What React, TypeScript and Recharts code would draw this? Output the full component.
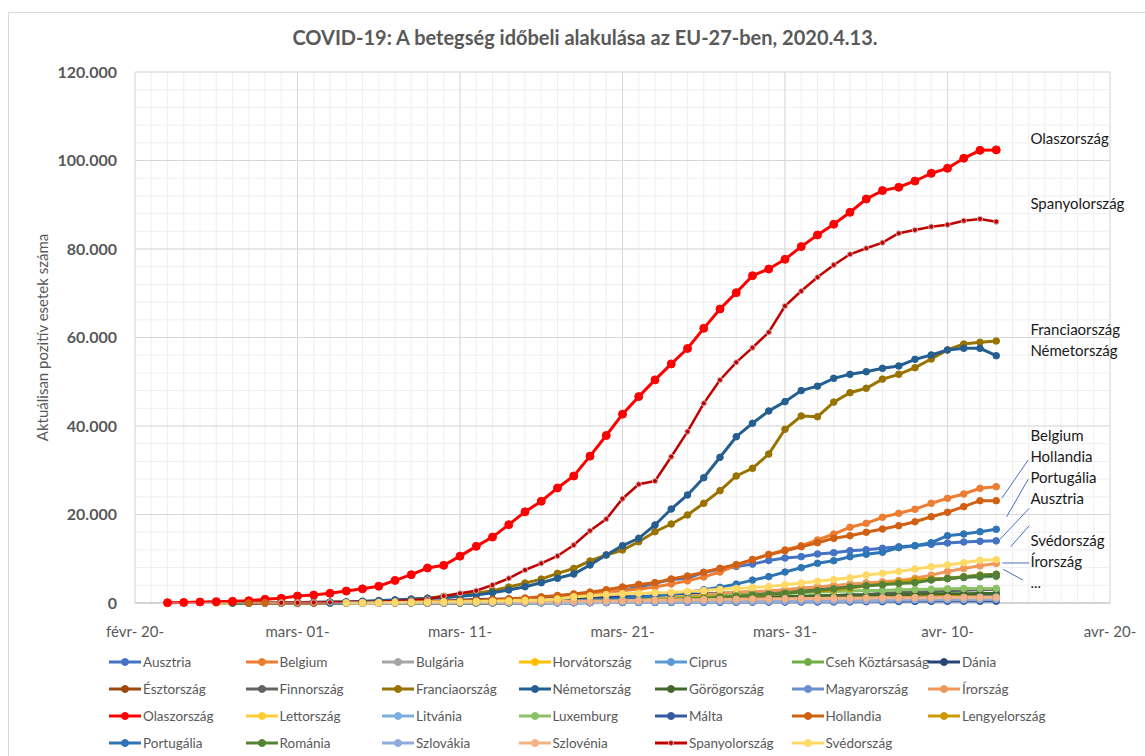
import { LineChart, Line, XAxis, YAxis, CartesianGrid, Legend, ReferenceDot, ReferenceLine } from 'recharts'

const FONT = 'Lato, "Open Sans", sans-serif'
const TEXT = '#595959'

const TITLE = 'COVID-19: A betegség időbeli alakulása az EU-27-ben, 2020.4.13.'
const Y_TITLE = 'Aktuálisan pozitív esetek száma'

// x = napok száma 2020. febr. 20. óta
const X_TICKS = [0, 10, 20, 30, 40, 50, 60]
const X_LABELS = ['févr- 20-', 'mars- 01-', 'mars- 11-', 'mars- 21-', 'mars- 31-', 'avr- 10-', 'avr- 20-']
const Y_TICKS = [0, 20000, 40000, 60000, 80000, 100000, 120000]
const LAST_DAY = 53

// napi értékek, az adott ország első napjától (START) kezdve
const ausztria = [2, 2, 3, 3, 9, 14, 18, 21, 29, 41, 55, 79, 104, 131, 182, 246, 302, 504, 655, 860, 1018, 1332, 1646, 2013, 2388, 2814, 3582, 4474, 5283, 5588, 6909, 7657, 8271, 8788, 9618, 10180, 10470, 11070, 11350, 11820, 12050, 12360, 12720, 12950, 13250, 13550, 13800, 13950, 14040]
const belgium = [2, 8, 13, 23, 50, 109, 169, 200, 239, 267, 314, 400, 559, 689, 886, 1100, 1500, 1800, 2200, 2500, 2800, 3100, 3600, 4300, 5000, 5900, 7000, 8500, 9800, 11000, 12000, 12950, 14240, 15590, 17110, 18010, 19370, 20270, 21180, 22530, 23660, 24630, 25920, 26280]
const bulgaria = [4, 4, 4, 4, 6, 7, 7, 23, 41, 51, 52, 67, 92, 94, 127, 163, 187, 201, 218, 242, 264, 293, 331, 346, 359, 399, 422, 457, 485, 503, 531, 549, 577, 593, 618, 635, 661, 685]
const horvatorszag = [1, 3, 3, 5, 7, 7, 9, 10, 11, 12, 12, 12, 14, 19, 32, 38, 49, 57, 65, 81, 105, 128, 206, 254, 315, 382, 442, 495, 586, 657, 713, 790, 867, 963, 1011, 1079, 1126, 1182, 1222, 1282, 1343, 1407, 1495, 1534, 1555, 1600, 1622, 1650, 1650]
const ciprus = [2, 3, 6, 6, 14, 26, 33, 46, 49, 67, 75, 95, 116, 124, 132, 162, 179, 214, 230, 262, 320, 356, 396, 426, 446, 465, 494, 526, 564, 595, 616, 633, 641, 650, 656, 662]
const cseh = [3, 3, 5, 8, 19, 26, 32, 38, 63, 94, 116, 141, 189, 298, 383, 450, 560, 765, 889, 1047, 1161, 1287, 1472, 1654, 1925, 2279, 2400, 2500, 2600, 3000, 3300, 3600, 3900, 4200, 4500, 4600, 4800, 5000, 5300, 5600, 5800, 5900, 6000]
const dania = [1, 1, 1, 3, 4, 4, 6, 10, 23, 35, 90, 262, 444, 617, 804, 836, 875, 933, 977, 1057, 1151, 1255, 1326, 1395, 1450, 1591, 1724, 1877, 2046, 2100, 2200, 2300, 2400, 2600, 2860, 3100, 3400, 3700, 4000, 4300, 4700, 5000, 5300, 5600, 5800, 6100, 6300]
const esztorszag = [1, 1, 1, 1, 2, 3, 3, 10, 10, 10, 10, 13, 16, 79, 115, 171, 205, 225, 258, 267, 283, 306, 326, 352, 369, 404, 538, 575, 645, 679, 715, 745, 779, 858, 961, 1039, 1097, 1108, 1149, 1185, 1207, 1258, 1304, 1309, 1332, 1373, 1400]
const finnorszag = [1, 2, 2, 3, 6, 6, 6, 6, 12, 15, 15, 23, 30, 40, 59, 109, 155, 225, 244, 277, 321, 336, 400, 450, 523, 626, 700, 792, 880, 958, 1041, 1167, 1240, 1352, 1418, 1446, 1518, 1615, 1882, 1927, 2176, 2308, 2487, 2605, 2769, 2905, 2974, 3064]
const franciaorszag = [100, 130, 190, 200, 280, 420, 600, 900, 1100, 1500, 1700, 2200, 2800, 3600, 4500, 5400, 6700, 7800, 9490, 10850, 11980, 13850, 16110, 17850, 19890, 22530, 25380, 28700, 30440, 33670, 39260, 42260, 42100, 45400, 47530, 48520, 50600, 51680, 53180, 55140, 57180, 58530, 58920, 59210]
const nemetorszag = [100, 150, 200, 250, 400, 550, 700, 850, 1000, 1200, 1500, 1810, 2330, 2940, 3680, 4590, 5580, 6550, 8590, 10850, 12950, 14620, 17630, 21240, 24410, 28320, 32930, 37580, 40610, 43390, 45500, 48000, 49000, 50780, 51680, 52270, 53040, 53560, 55070, 56050, 57180, 57560, 57560, 55880]
const gorogorszag = [1, 3, 4, 7, 7, 7, 9, 31, 45, 46, 73, 73, 89, 99, 99, 190, 228, 331, 331, 387, 418, 418, 495, 530, 624, 695, 743, 821, 892, 966, 1061, 1156, 1212, 1314, 1415, 1544, 1613, 1673, 1735, 1755, 1832, 1884, 1955, 2011, 2081, 2114, 2145, 2170]
const magyarorszag = [2, 4, 7, 9, 9, 13, 13, 19, 30, 32, 39, 50, 58, 73, 85, 103, 131, 167, 187, 226, 261, 300, 343, 408, 447, 492, 525, 585, 623, 678, 733, 744, 817, 895, 980, 1050, 1190, 1310, 1360, 1410]
const irorszag = [1, 2, 6, 18, 19, 21, 24, 34, 43, 70, 90, 129, 169, 223, 292, 557, 683, 785, 906, 1125, 1329, 1564, 1819, 2121, 2415, 2615, 2700, 3000, 3300, 3600, 3900, 4200, 4500, 4800, 5100, 5600, 6300, 7100, 7800, 8400, 8950]
const olaszorszag = [60, 130, 220, 310, 385, 520, 840, 1060, 1580, 1800, 2200, 2710, 3200, 3800, 5100, 6400, 7900, 8520, 10590, 12800, 14900, 17700, 20600, 23000, 26000, 28700, 33190, 37860, 42680, 46640, 50420, 54030, 57520, 62070, 66440, 70130, 73970, 75480, 77670, 80540, 83170, 85600, 88300, 91300, 93200, 93950, 95370, 97100, 98240, 100500, 102300, 102400]
const lettorszag = [1, 1, 1, 1, 2, 6, 8, 10, 16, 17, 26, 30, 34, 49, 71, 86, 111, 124, 139, 180, 197, 221, 244, 280, 305, 347, 376, 398, 446, 458, 493, 509, 533, 542, 548, 577, 589, 612, 630, 651, 655, 657]
const litvania = [1, 1, 1, 1, 1, 1, 1, 1, 1, 1, 3, 6, 8, 12, 17, 25, 27, 36, 49, 69, 105, 131, 179, 209, 274, 299, 358, 382, 460, 491, 537, 581, 649, 696, 771, 811, 843, 880, 912, 955, 999, 1026, 1043, 1053, 1062, 1070]
const luxemburg = [1, 1, 1, 1, 2, 3, 4, 5, 5, 7, 7, 7, 26, 34, 51, 59, 77, 140, 203, 335, 484, 670, 798, 875, 1099, 1333, 1453, 1605, 1831, 1950, 1988, 2178, 2319, 2487, 2612, 2729, 2804, 2843, 2970, 3034, 3115, 3223, 3270, 3281, 3292]
const malta = [3, 3, 5, 6, 12, 18, 21, 30, 38, 48, 53, 64, 73, 90, 107, 110, 129, 134, 139, 149, 151, 156, 169, 188, 196, 202, 213, 227, 241, 241, 293, 299, 337, 350, 370, 378, 384, 386, 393]
const hollandia = [1, 2, 7, 10, 18, 24, 38, 82, 128, 188, 265, 321, 382, 503, 614, 804, 959, 1135, 1413, 1705, 2051, 2460, 2994, 3631, 4204, 4600, 5420, 6100, 6930, 7840, 8700, 9800, 10900, 11800, 12720, 13630, 14620, 15210, 15980, 16720, 17470, 18370, 19500, 20500, 21770, 23120, 23120]
const lengyelorszag = [1, 5, 11, 17, 31, 49, 68, 103, 119, 177, 238, 251, 355, 425, 536, 634, 749, 901, 1051, 1221, 1389, 1550, 1700, 1900, 2190, 2560, 2710, 2940, 3320, 3910, 4290, 4810, 5200, 5420, 5580, 5940, 6330, 6480]
const portugalia = [2, 4, 6, 9, 13, 21, 30, 39, 41, 59, 78, 112, 169, 245, 331, 448, 642, 785, 1020, 1280, 1600, 2060, 2362, 2995, 3544, 4268, 5170, 5962, 7000, 7980, 8970, 9560, 10470, 11010, 11460, 12500, 12950, 13630, 15210, 15590, 16110, 16650]
const romania = [3, 4, 6, 9, 15, 25, 45, 64, 89, 123, 158, 217, 277, 308, 367, 433, 576, 762, 906, 1029, 1292, 1452, 1815, 2000, 2200, 2500, 2800, 3200, 3600, 3900, 4100, 4400, 4600, 5200, 5500, 5900, 6200, 6500]
const szlovakia = [1, 3, 5, 7, 10, 21, 32, 44, 54, 63, 72, 97, 105, 123, 137, 178, 185, 204, 216, 226, 269, 292, 314, 336, 363, 400, 426, 450, 471, 485, 534, 581, 682, 701, 715, 728, 742, 769, 835]
const szlovenia = [6, 16, 31, 57, 89, 141, 181, 219, 253, 275, 286, 341, 383, 414, 442, 480, 528, 562, 632, 684, 730, 756, 802, 841, 897, 934, 977, 997, 1021, 1059, 1091, 1124, 1160, 1188, 1205, 1212, 1220, 1230, 1240, 1250]
const spanyolorszag = [50, 70, 120, 160, 200, 250, 300, 450, 600, 830, 1580, 2190, 2780, 4070, 5580, 7460, 8970, 10620, 13100, 16340, 18980, 23570, 26830, 27570, 33060, 38720, 45130, 50400, 54400, 57700, 61180, 67120, 70500, 73600, 76390, 78800, 80160, 81430, 83550, 84300, 85050, 85500, 86400, 86800, 86180]
const svedorszag = [10, 15, 50, 100, 160, 200, 250, 300, 350, 400, 500, 600, 700, 900, 1400, 1600, 1900, 2100, 2200, 2300, 2400, 2600, 2800, 3100, 3300, 3500, 3700, 4100, 4500, 4900, 5300, 5700, 6300, 6700, 7100, 7700, 8200, 8600, 9100, 9650, 9800]

const COUNTRIES = [
  'Ausztria', 'Belgium', 'Bulgária', 'Horvátország', 'Ciprus', 'Cseh Köztársaság', 'Dánia',
  'Észtország', 'Finnország', 'Franciaország', 'Németország', 'Görögország', 'Magyarország', 'Írország',
  'Olaszország', 'Lettország', 'Litvánia', 'Luxemburg', 'Málta', 'Hollandia', 'Lengyelország',
  'Portugália', 'Románia', 'Szlovákia', 'Szlovénia', 'Spanyolország', 'Svédország',
]

const VALUES: Record<string, number[]> = {
  Ausztria: ausztria, Belgium: belgium, Bulgária: bulgaria, Horvátország: horvatorszag, Ciprus: ciprus,
  'Cseh Köztársaság': cseh, Dánia: dania, Észtország: esztorszag, Finnország: finnorszag,
  Franciaország: franciaorszag, Németország: nemetorszag, Görögország: gorogorszag, Magyarország: magyarorszag,
  Írország: irorszag, Olaszország: olaszorszag, Lettország: lettorszag, Litvánia: litvania, Luxemburg: luxemburg,
  Málta: malta, Hollandia: hollandia, Lengyelország: lengyelorszag, Portugália: portugalia, Románia: romania,
  Szlovákia: szlovakia, Szlovénia: szlovenia, Spanyolország: spanyolorszag, Svédország: svedorszag,
}

const START: Record<string, number> = {
  Ausztria: 5, Belgium: 10, Bulgária: 16, Horvátország: 5, Ciprus: 18, 'Cseh Köztársaság': 11, Dánia: 7,
  Észtország: 7, Finnország: 6, Franciaország: 10, Németország: 10, Görögország: 6, Magyarország: 14,
  Írország: 13, Olaszország: 2, Lettország: 12, Litvánia: 8, Luxemburg: 9, Málta: 15, Hollandia: 7,
  Lengyelország: 16, Portugália: 12, Románia: 16, Szlovákia: 15, Szlovénia: 14, Spanyolország: 9, Svédország: 13,
}

const COLORS: Record<string, string> = {
  Ausztria: '#4472C4', Belgium: '#ED7D31', Bulgária: '#A5A5A5', Horvátország: '#FFC000', Ciprus: '#5B9BD5',
  'Cseh Köztársaság': '#70AD47', Dánia: '#264478', Észtország: '#9E480E', Finnország: '#636363',
  Franciaország: '#997300', Németország: '#255E91', Görögország: '#43682B', Magyarország: '#698ED0',
  Írország: '#F1975A', Olaszország: '#FF0000', Lettország: '#FFCD33', Litvánia: '#7CAFDD', Luxemburg: '#8CC168',
  Málta: '#335AA1', Hollandia: '#D26012', Lengyelország: '#CC9A00', Portugália: '#2E75B6', Románia: '#548235',
  Szlovákia: '#8FAADC', Szlovénia: '#F4B183', Spanyolország: '#C00000', Svédország: '#FFD966',
}

// feliratok a vonalak végénél
const END_LABELS = [
  { text: 'Olaszország', y: 105100 },
  { text: 'Spanyolország', y: 90400 },
  { text: 'Franciaország', y: 61900 },
  { text: 'Németország', y: 57200 },
  { text: 'Belgium', y: 37970 },
  { text: 'Hollandia', y: 33220 },
  { text: 'Portugália', y: 28480 },
  { text: 'Ausztria', y: 23730 },
  { text: 'Svédország', y: 14240 },
  { text: 'Írország', y: 9490 },
  { text: '...', y: 4700 },
]
const LABEL_DAY = 55.1
const LEADERS = [
  [[53.34, 23660], [54.97, 32320]],
  [[53.64, 19500], [54.97, 27960]],
  [[53.23, 14400], [55.03, 21400]],
  [[53.89, 12720], [55.03, 17470]],
  [[53.37, 9040], [55.03, 9040]],
  [[53.43, 7620], [54.63, 5200]],
]

const rows = Array.from({ length: LAST_DAY + 1 }, (_, d) => {
  const row: Record<string, number | null> = { d }
  for (const name of COUNTRIES) {
    const i = d - START[name]
    row[name] = i >= 0 && i < VALUES[name].length ? VALUES[name][i] : null
  }
  return row
})

const MINOR_DAYS = Array.from({ length: 61 }, (_, i) => i)
const MINOR_VALUES = Array.from({ length: 31 }, (_, i) => i * 4000)

const fmtY = (v: number) => (v === 0 ? '0' : `${v / 1000}.000`)
const fmtX = (v: number) => X_LABELS[X_TICKS.indexOf(v)] ?? ''

const minorX = ({ xAxis, offset }: any) =>
  MINOR_DAYS.map((d) => (xAxis && typeof xAxis.scale === 'function' ? xAxis.scale(d) : offset.left + (offset.width * d) / 60))
const minorY = ({ yAxis, offset }: any) =>
  MINOR_VALUES.map((v) =>
    yAxis && typeof yAxis.scale === 'function' ? yAxis.scale(v) : offset.top + offset.height * (1 - v / 120000),
  )

function LegendIcon({ color, small }: { color: string; small?: boolean }) {
  return (
    <svg width={32} height={10} style={{ flex: 'none' }}>
      <line x1={0} y1={5} x2={32} y2={5} stroke={color} strokeWidth={3} />
      <circle cx={16} cy={5} r={small ? 2.5 : 3.5} fill={color} stroke={small ? '#D8B4B4' : color} strokeWidth={1} />
    </svg>
  )
}

function renderLegend() {
  return (
    <div style={{ display: 'flex', flexWrap: 'wrap', width: 956, height: 108, fontFamily: FONT }}>
      {COUNTRIES.map((name) => (
        <div key={name} style={{ width: 136.5, height: 27, display: 'flex', alignItems: 'center' }}>
          <LegendIcon color={COLORS[name]} small={name === 'Spanyolország'} />
          <span style={{ fontSize: 13.5, color: TEXT, marginLeft: 2, whiteSpace: 'nowrap' }}>{name}</span>
        </div>
      ))}
    </div>
  )
}

function YTitle(props: any) {
  const vb = props.viewBox || {}
  const cx = vb.x - 13
  const cy = vb.y + vb.height / 2
  return (
    <text x={cx} y={cy} transform={`rotate(-90 ${cx} ${cy})`} textAnchor="middle" dominantBaseline="central"
      fill={TEXT} fontSize={15} fontFamily={FONT}>
      {Y_TITLE}
    </text>
  )
}

export default function App() {
  return (
    <div style={{ position: 'absolute', left: 0, top: 0, width: 1145, height: 756, fontFamily: FONT }}>
      <div style={{ position: 'absolute', left: 8, top: 12, width: 1140, height: 750, border: '1px solid #D9D9D9' }} />
      <div style={{ position: 'absolute', left: 8, top: 25, width: 1154, textAlign: 'center', fontSize: 20, fontWeight: 700, color: TEXT }}>
        {TITLE}
      </div>
      <div style={{ position: 'absolute', left: 0, top: 0 }}>
        <LineChart width={1145} height={756} data={rows} margin={{ top: 72, right: 35, bottom: 0, left: 55 }}>
          <CartesianGrid stroke="#EFEFEF" verticalCoordinatesGenerator={minorX} horizontalCoordinatesGenerator={minorY} />
          <CartesianGrid stroke="#D9D9D9" />
          <XAxis dataKey="d" type="number" domain={[0, 60]} ticks={X_TICKS} interval={0} tickFormatter={fmtX}
            height={45} axisLine={{ stroke: '#BFBFBF' }} tickLine={false} tickMargin={17}
            tick={{ fill: TEXT, fontSize: 15, fontFamily: FONT }} />
          <YAxis type="number" domain={[0, 120000]} ticks={Y_TICKS} interval={0} tickFormatter={fmtY} width={80}
            axisLine={false} tickLine={false} tickMargin={12}
            tick={{ fill: TEXT, fontSize: 16, fontWeight: 700, fontFamily: FONT }}
            label={{ content: YTitle }} />
          {COUNTRIES.map((name) => {
            const color = COLORS[name]
            const italy = name === 'Olaszország'
            const spain = name === 'Spanyolország'
            return (
              <Line key={name} dataKey={name} name={name} stroke={color} strokeWidth={spain ? 2.5 : 3}
                dot={{ r: italy ? 4 : spain ? 2.6 : 3.3, fill: color, stroke: spain ? '#D8B4B4' : color, strokeWidth: 1 }}
                activeDot={false} isAnimationActive={false} connectNulls={false} />
            )
          })}
          {LEADERS.map((seg, i) => (
            <ReferenceLine key={i} segment={[{ x: seg[0][0], y: seg[0][1] }, { x: seg[1][0], y: seg[1][1] }]}
              stroke="#4472C4" strokeWidth={1} ifOverflow="visible" />
          ))}
          {END_LABELS.map((l) => (
            <ReferenceDot key={l.text} x={LABEL_DAY} y={l.y} r={0} ifOverflow="visible"
              shape={(p: any) => (
                <text x={p.cx} y={p.cy} dominantBaseline="central" fontSize={15} fontFamily={FONT} fill="#1a1a1a">
                  {l.text}
                </text>
              )} />
          ))}
          <Legend verticalAlign="bottom" content={renderLegend}
            wrapperStyle={{ left: 109, top: 648, width: 956, height: 108 }} />
        </LineChart>
      </div>
    </div>
  )
}
